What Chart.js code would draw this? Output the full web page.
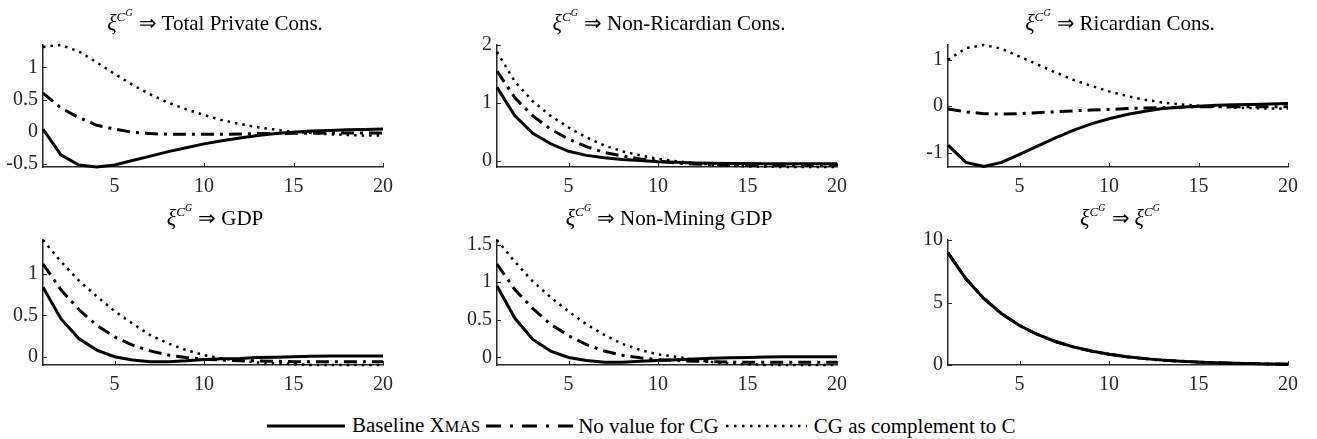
<!DOCTYPE html>
<html>
<head>
<meta charset="utf-8">
<script src="https://cdn.jsdelivr.net/npm/chart.js@4.4.1/dist/chart.umd.min.js"></script>
<style>
    body { margin: 0; width: 1317px; height: 439px; background: #fff; position: relative; overflow: hidden;
           font-family: 'Liberation Serif', 'Times New Roman', Times, serif; color: #000; }
    canvas { position: absolute; }
    .title { position: absolute; font-size: 21px; white-space: nowrap; transform: translate(-50%, -50%); line-height: 1; }
    .title .xi { font-style: italic; font-size: 1.05em; }
    .title sup { font-size: 0.6em; vertical-align: 0.65em; font-style: italic; }
    .title sup sup { font-size: 0.75em; vertical-align: 0.5em; }
    .arrow { margin: 0 5px 0 6px; }
    #legend { position: absolute; left: 267px; top: 412px; display: flex; align-items: center; font-size: 21px; white-space: nowrap; line-height: 26px; }
    #legend svg { display: block; }
    .sc { font-size: 0.78em; }
</style>
</head>
<body>
<div id="legend">
    <svg width="78" height="8"><line x1="0" y1="4" x2="78" y2="4" stroke="#000" stroke-width="3"/></svg>
    <span style="margin:0 6px 0 7px">Baseline X<span class="sc">MAS</span></span>
    <svg width="87" height="8"><line x1="0" y1="4" x2="87" y2="4" stroke="#000" stroke-width="3" stroke-dasharray="15 9 3 9"/></svg>
    <span style="margin:0 7px 0 5px">No value for CG</span>
    <svg width="81" height="8"><line x1="0" y1="4" x2="81" y2="4" stroke="#000" stroke-width="2.5" stroke-dasharray="2.5 5.5"/></svg>
    <span style="margin-left:7px">CG as complement to C</span>
</div>
<script>
// --- 1. 데이터 ---
const periods = [1, 2, 3, 4, 5, 6, 7, 8, 9, 10, 11, 12, 13, 14, 15, 16, 17, 18, 19, 20];
const xTicks = [5, 10, 15, 20];
const seriesNames = ['Baseline XMAS', 'No value for CG', 'CG as complement to C'];

// Total Private Cons.
const privBase  = [0.04, -0.36, -0.52, -0.55, -0.52, -0.45, -0.38, -0.31, -0.25, -0.19, -0.14, -0.10, -0.06, -0.03, -0.01, 0.01, 0.02, 0.03, 0.035, 0.04];
const privNoVal = [0.60, 0.37, 0.22, 0.10, 0.04, -0.01, -0.03, -0.04, -0.04, -0.04, -0.04, -0.035, -0.03, -0.03, -0.025, -0.025, -0.02, -0.02, -0.02, -0.02];
const privCompl = [1.32, 1.35, 1.25, 1.08, 0.90, 0.73, 0.58, 0.45, 0.35, 0.26, 0.18, 0.12, 0.07, 0.03, 0.0, -0.02, -0.04, -0.05, -0.06, -0.06];
const privTicks = [-0.5, 0, 0.5, 1];

// Non-Ricardian Cons.
const nrBase  = [1.27, 0.78, 0.48, 0.30, 0.17, 0.10, 0.06, 0.03, 0.01, -0.01, -0.02, -0.03, -0.035, -0.04, -0.04, -0.045, -0.045, -0.045, -0.045, -0.045];
const nrNoVal = [1.55, 1.09, 0.78, 0.55, 0.38, 0.25, 0.15, 0.09, 0.04, 0.0, -0.03, -0.05, -0.06, -0.065, -0.07, -0.07, -0.07, -0.07, -0.07, -0.07];
const nrCompl = [1.88, 1.37, 1.03, 0.78, 0.58, 0.41, 0.27, 0.17, 0.10, 0.04, 0.0, -0.03, -0.06, -0.08, -0.09, -0.095, -0.1, -0.1, -0.1, -0.1];
const nrTicks = [0, 1, 2];

// Ricardian Cons.
const rBase  = [-0.84, -1.21, -1.30, -1.21, -1.04, -0.86, -0.68, -0.52, -0.38, -0.27, -0.18, -0.11, -0.05, -0.02, 0.0, 0.02, 0.03, 0.04, 0.05, 0.06];
const rNoVal = [-0.06, -0.12, -0.16, -0.17, -0.16, -0.14, -0.12, -0.10, -0.08, -0.07, -0.05, -0.04, -0.03, -0.02, -0.01, -0.01, -0.01, -0.01, -0.01, -0.01];
const rCompl = [1.0, 1.25, 1.32, 1.24, 1.07, 0.90, 0.73, 0.57, 0.44, 0.32, 0.22, 0.14, 0.08, 0.04, 0.01, -0.01, -0.03, -0.04, -0.05, -0.05];
const rTicks = [-1, 0, 1];

// GDP
const gBase  = [0.84, 0.46, 0.22, 0.08, 0.0, -0.04, -0.06, -0.06, -0.05, -0.035, -0.025, -0.02, -0.01, -0.005, 0.0, 0.005, 0.01, 0.01, 0.01, 0.01];
const gNoVal = [1.12, 0.81, 0.57, 0.38, 0.24, 0.14, 0.07, 0.02, -0.01, -0.03, -0.04, -0.05, -0.05, -0.055, -0.06, -0.06, -0.06, -0.06, -0.06, -0.06];
const gCompl = [1.41, 1.15, 0.92, 0.73, 0.55, 0.40, 0.26, 0.16, 0.08, 0.02, -0.02, -0.05, -0.07, -0.08, -0.09, -0.1, -0.1, -0.1, -0.1, -0.1];
const gTicks = [0, 0.5, 1];

// Non-Mining GDP
const nmBase  = [0.95, 0.52, 0.24, 0.085, 0.0, -0.04, -0.065, -0.065, -0.05, -0.04, -0.03, -0.02, -0.01, -0.005, 0.0, 0.005, 0.01, 0.01, 0.01, 0.01];
const nmNoVal = [1.24, 0.90, 0.65, 0.44, 0.29, 0.17, 0.085, 0.03, -0.005, -0.03, -0.04, -0.05, -0.055, -0.06, -0.065, -0.065, -0.065, -0.065, -0.065, -0.065];
const nmCompl = [1.56, 1.27, 1.01, 0.80, 0.61, 0.44, 0.30, 0.18, 0.10, 0.04, 0.01, -0.03, -0.06, -0.08, -0.09, -0.1, -0.1, -0.1, -0.1, -0.1];
const nmTicks = [0, 0.5, 1, 1.5];

// Shock itself (same in all three models)
const shock = [8.97, 6.90, 5.32, 4.10, 3.16, 2.44, 1.88, 1.45, 1.12, 0.86, 0.66, 0.51, 0.39, 0.30, 0.23, 0.18, 0.14, 0.11, 0.08, 0.06];
const shockTicks = [0, 5, 10];

// --- 2. 레이아웃 / 스타일 ---
const AXIS = '#262626';
const Y_W = 42;      // y axis width
const X_H = 36;      // x axis height
const PAD_T = 12;
const PAD_R = 14;
const TICK_FONT = { family: "'Liberation Serif', 'Times New Roman', Times, serif", size: 20 };

const panels = [
    { title: 'Total Private Cons.', series: [privBase, privNoVal, privCompl], ticks: privTicks, min: -0.55, max: 1.35, left: 43, top: 40, w: 344, h: 127 },
    { title: 'Non-Ricardian Cons.', series: [nrBase, nrNoVal, nrCompl], ticks: nrTicks, min: -0.1, max: 2, left: 497, top: 40, w: 344, h: 127 },
    { title: 'Ricardian Cons.', series: [rBase, rNoVal, rCompl], ticks: rTicks, min: -1.31, max: 1.32, left: 948, top: 40, w: 344, h: 127 },
    { title: 'GDP', series: [gBase, gNoVal, gCompl], ticks: gTicks, min: -0.1, max: 1.41, left: 43, top: 235, w: 344, h: 130 },
    { title: 'Non-Mining GDP', series: [nmBase, nmNoVal, nmCompl], ticks: nmTicks, min: -0.1, max: 1.56, left: 497, top: 235, w: 344, h: 130 },
    { title: null, series: [shock, shock, shock], ticks: shockTicks, min: 0, max: 10, left: 948, top: 235, w: 344, h: 130 }
];

const lineStyles = [
    { borderWidth: 3, borderDash: [] },
    { borderWidth: 3, borderDash: [13, 6, 3, 6] },
    { borderWidth: 2.5, borderDash: [2.5, 5] }
];

const XI = '<span class="xi">ξ<sup>C<sup>G</sup></sup></span>';

/** MATLAB 스타일 안쪽 눈금 */
const innerTicks = {
    id: 'innerTicks',
    afterDraw(chart) {
        const { ctx, chartArea, scales } = chart;
        ctx.save();
        ctx.strokeStyle = AXIS;
        ctx.lineWidth = 1;
        ctx.beginPath();
        scales.x.ticks.forEach(t => {
            const px = Math.round(scales.x.getPixelForValue(t.value)) + 0.5;
            ctx.moveTo(px, chartArea.bottom);
            ctx.lineTo(px, chartArea.bottom - 4);
        });
        scales.y.ticks.forEach(t => {
            const py = Math.round(scales.y.getPixelForValue(t.value)) + 0.5;
            ctx.moveTo(chartArea.left, py);
            ctx.lineTo(chartArea.left + 4, py);
        });
        ctx.stroke();
        ctx.restore();
    }
};

/** 패널 하나 생성 */
function createPanel(p) {
    const canvas = document.createElement('canvas');
    canvas.width = Y_W + p.w + PAD_R;
    canvas.height = PAD_T + p.h + X_H;
    canvas.style.left = (p.left - Y_W) + 'px';
    canvas.style.top = (p.top - PAD_T) + 'px';
    document.body.appendChild(canvas);

    // 제목 (HTML)
    const title = document.createElement('div');
    title.className = 'title';
    title.innerHTML = XI + '<span class="arrow">⇒</span>' + (p.title ? p.title : XI);
    title.style.left = (p.left + p.w / 2) + 'px';
    title.style.top = (p.top - 19) + 'px';
    document.body.appendChild(title);

    new Chart(canvas.getContext('2d'), {
        type: 'line',
        data: {
            datasets: p.series.map((values, i) => ({
                label: seriesNames[i],
                data: periods.map((x, k) => ({ x: x, y: values[k] })),
                borderColor: '#000',
                borderWidth: lineStyles[i].borderWidth,
                borderDash: lineStyles[i].borderDash,
                borderCapStyle: 'butt',
                pointRadius: 0,
                tension: 0,
                fill: false,
                clip: false
            }))
        },
        options: {
            responsive: false,
            animation: false,
            layout: { padding: { top: PAD_T, right: PAD_R, left: 0, bottom: 0 } },
            plugins: {
                legend: { display: false },
                tooltip: { enabled: false }
            },
            scales: {
                x: {
                    type: 'linear',
                    min: 1,
                    max: 20,
                    grid: { display: false, drawTicks: false },
                    border: { color: AXIS, width: 1.5 },
                    ticks: { font: TICK_FONT, color: AXIS, padding: 8, maxRotation: 0, autoSkip: false, callback: v => String(v) },
                    afterBuildTicks: s => { s.ticks = xTicks.map(v => ({ value: v })); },
                    afterFit: s => { s.height = X_H; }
                },
                y: {
                    type: 'linear',
                    min: p.min,
                    max: p.max,
                    grid: { display: false, drawTicks: false },
                    border: { color: AXIS, width: 1.5 },
                    ticks: { font: TICK_FONT, color: AXIS, padding: 5, autoSkip: false, callback: v => String(v) },
                    afterBuildTicks: s => { s.ticks = p.ticks.map(v => ({ value: v })); },
                    afterFit: s => { s.width = Y_W; }
                }
            }
        },
        plugins: [innerTicks]
    });
}

panels.forEach(createPanel);
</script>
</body>
</html>
